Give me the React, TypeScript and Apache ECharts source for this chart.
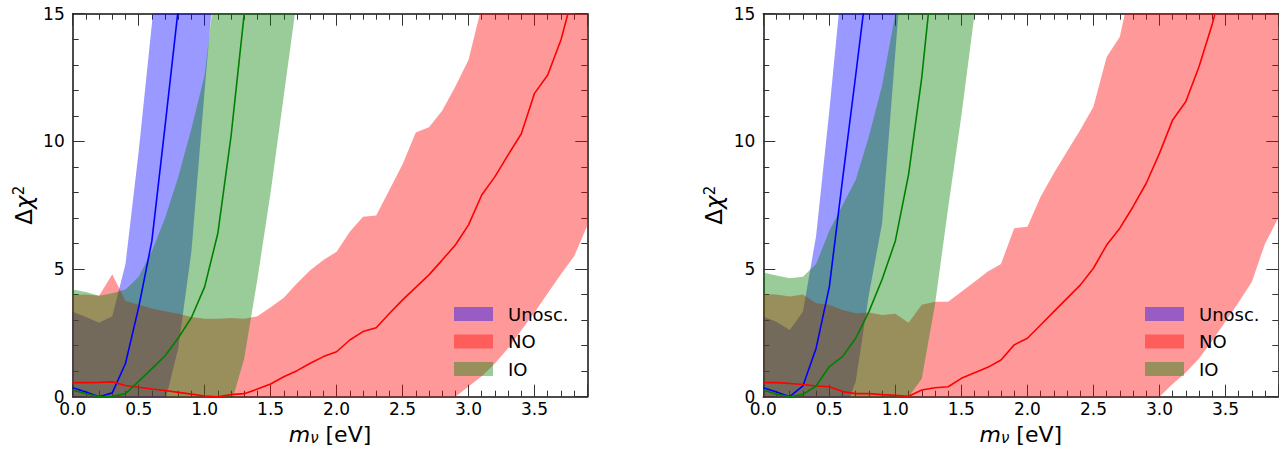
import React, { useEffect, useRef } from 'react';
import * as echarts from 'echarts';

// neutrino mass grid (eV)
const mGrid = [0.0, 0.1, 0.2, 0.3, 0.4, 0.5, 0.6, 0.7, 0.8, 0.9, 1.0, 1.1, 1.2, 1.3, 1.4, 1.5, 1.6, 1.7, 1.8, 1.9,
  2.0, 2.1, 2.2, 2.3, 2.4, 2.5, 2.6, 2.7, 2.8, 2.9, 3.0, 3.1, 3.2, 3.3, 3.4, 3.5, 3.6, 3.7, 3.8, 3.9];

const legendNames = ['Unosc.', 'NO', 'IO'];
const xTicks = [0, 0.5, 1.0, 1.5, 2.0, 2.5, 3.0, 3.5];
const yTicks = [0, 5, 10, 15];

// ---- left panel ----
const unoscLoA = [0, 0, 0, 0, 0, 0, 0, -0.2, 1.9, 5.7, 12, 18];
const unoscHiA = [3.33, 3.12, 2.9, 3.15, 5.2, 9.6, 14.6, 19.5, 24, 28, 32, 36];
const noLoA = [0, 0, 0, 0, 0, 0, 0, 0, 0, 0, 0, 0, 0, 0, 0, 0, 0, 0, 0, 0, 0, 0, 0, 0, 0, 0, 0, 0, 0, 0,
  0.4, 0.8, 1.3, 1.9, 2.6, 3.3, 4.05, 4.8, 5.5, 6.7];
const noHiA = [3.98, 4.0, 3.95, 4.8, 3.75, 3.6, 3.45, 3.35, 3.25, 3.12, 3.05, 3.05, 3.08, 3.05, 3.15, 3.5, 3.88, 4.44, 4.95, 5.35,
  5.68, 6.46, 7.05, 7.1, 8.1, 9.1, 10.35, 10.55, 11.2, 12.15, 13.2, 15.3, 17.5, 19.5, 21.5, 23.5, 25.5, 27.5, 29.5, 31.5];
const ioLoA = [0, 0, 0, 0, 0, 0, 0, 0, 0, 0, 0, 0, -0.3, 1.5, 4.6, 8.0, 11.8, 15.6];
const ioHiA = [4.2, 4.1, 3.95, 4.05, 4.2, 4.7, 5.7, 7.0, 8.6, 10.5, 12.6, 17, 21, 25, 29, 33, 37, 41];
const unoscLineA = [0.35, 0.18, 0.0, 0.15, 1.3, 3.5, 6.1, 10.6, 15.2, 20];
const ioLineA = [0.25, 0.12, 0.0, 0.02, 0.12, 0.6, 1.1, 1.6, 2.3, 3.1, 4.3, 6.4, 10.2, 15.0, 20];
const noLineA = [0.55, 0.55, 0.56, 0.58, 0.44, 0.37, 0.3, 0.24, 0.17, 0.1, 0.03, 0.0, 0.08, 0.12, 0.3, 0.5, 0.78, 1.02, 1.31, 1.57,
  1.76, 2.22, 2.55, 2.7, 3.26, 3.79, 4.28, 4.77, 5.35, 5.94, 6.73, 7.9, 8.62, 9.47, 10.3, 11.88, 12.6, 13.97, 15.9, 17.5];

// ---- right panel ----
const unoscLoB = [0, 0, 0, 0, 0, 0, -0.8, 0.6, 4.0, 6.8, 13.5, 20];
const unoscHiB = [3.13, 2.94, 2.61, 3.33, 6.3, 11.2, 16.5, 22, 27, 32, 37, 42];
const noLoB = [0, 0, 0, 0, 0, 0, 0, 0, 0, 0, 0, 0, 0, 0, 0, 0, 0, 0, 0, 0, 0, 0, 0, 0, 0, 0, 0, 0, 0, 0, 0,
  0.5, 0.95, 1.5, 2.2, 2.95, 3.7, 4.5, 6.0, 7.0];
const noHiB = [4.01, 4.0, 3.92, 4.0, 3.66, 3.6, 3.4, 3.27, 3.3, 3.2, 3.25, 2.9, 3.6, 3.72, 3.72, 4.11, 4.5, 4.9, 5.2, 6.6,
  6.66, 7.83, 8.75, 9.6, 10.45, 11.36, 13.3, 14.1, 16.5, 18.5, 20.5, 22.5, 24.5, 26.5, 28.5, 30.5, 32.5, 34.5, 36.5, 38.5];
const ioLoB = [0, 0, 0, 0, 0, 0, 0, 0, 0, 0, 0, 0, 0.7, 3.6, 7.4, 11, 15, 19];
const ioHiB = [4.86, 4.75, 4.64, 4.7, 5.2, 6.5, 7.5, 8.5, 10.2, 12.2, 15.0, 18, 21, 24, 27, 30, 33, 36];
const unoscLineB = [0.35, 0.18, 0.0, 0.42, 1.9, 4.3, 8.5, 12.6, 16.8];
const ioLineB = [0.26, 0.1, 0.0, 0.09, 0.42, 1.18, 1.57, 2.29, 3.33, 4.6, 6.1, 8.7, 12.5, 17.5];
const noLineB = [0.55, 0.55, 0.52, 0.48, 0.42, 0.39, 0.2, 0.12, 0.12, 0.08, 0.05, 0.02, 0.26, 0.35, 0.39, 0.72, 0.94, 1.15, 1.44, 2.03,
  2.29, 2.81, 3.33, 3.85, 4.37, 5.03, 5.94, 6.6, 7.44, 8.36, 9.53, 10.84, 11.56, 12.93, 14.6, 16.5];

const FONT = 'DejaVu Sans';
const FILL = {
  'Unosc.': 'rgba(0,0,255,0.4)',
  NO: 'rgba(255,0,0,0.4)',
  IO: 'rgba(0,128,0,0.4)',
};
const LINE = { 'Unosc.': '#0000ff', NO: '#ff0000', IO: '#008000' };

function band(name: string, lo: number[], hi: number[], axis: number) {
  const ms = mGrid.slice(0, lo.length);
  const color = (FILL as any)[name];
  return {
    type: 'custom',
    name,
    xAxisIndex: axis * 2,
    yAxisIndex: axis * 2,
    clip: true,
    silent: true,
    z: 2,
    itemStyle: { color },
    encode: { x: 0, y: [1, 2] },
    data: ms.map((m, i) => [m, lo[i], hi[i]]),
    renderItem: (params: any, api: any) => {
      if (params.dataIndex !== 0) return null;
      const pts: number[][] = [];
      for (let i = 0; i < ms.length; i++) pts.push(api.coord([ms[i], hi[i]]));
      for (let i = ms.length - 1; i >= 0; i--) pts.push(api.coord([ms[i], lo[i]]));
      return { type: 'polygon', shape: { points: pts }, style: { fill: color, stroke: null } };
    },
  };
}

function curve(name: string, vals: number[], axis: number) {
  const color = (LINE as any)[name];
  return {
    type: 'line',
    name: name + ' best fit',
    xAxisIndex: axis * 2,
    yAxisIndex: axis * 2,
    data: mGrid.slice(0, vals.length).map((m, i) => [m, vals[i]]),
    showSymbol: false,
    symbol: 'none',
    silent: true,
    clip: true,
    z: 3,
    lineStyle: { color, width: 1.6 },
    itemStyle: { color },
  };
}

const tickLine = { color: '#333', width: 1 };

function xAxes(grid: number) {
  const common = {
    type: 'value', gridIndex: grid, min: xTicks[0], max: 3.9, interval: xTicks[1] - xTicks[0],
    axisLine: { show: true, onZero: false, lineStyle: { color: '#111', width: 1.5 } },
    axisTick: { show: true, inside: true, length: 12, lineStyle: tickLine },
    minorTick: { show: true, splitNumber: 5, length: 6, lineStyle: tickLine },
    splitLine: { show: false },
  };
  return [
    {
      ...common, position: 'bottom',
      axisLabel: {
        show: true, margin: 4, showMaxLabel: false, fontFamily: FONT, fontSize: 17, color: '#000',
        formatter: (v: number) => v.toFixed(1),
      },
      name: '{i|m}{s|ν} [eV]',
      nameLocation: 'middle',
      nameGap: 27,
      nameTextStyle: {
        fontFamily: FONT, fontSize: 22, color: '#000', lineHeight: 22,
        rich: {
          i: { fontFamily: FONT, fontSize: 22, fontStyle: 'italic', color: '#000', lineHeight: 22 },
          s: { fontFamily: FONT, fontSize: 15, fontStyle: 'italic', color: '#000', verticalAlign: 'bottom', lineHeight: 13 },
        },
      },
    },
    { ...common, position: 'top', axisLabel: { show: false } },
  ];
}

function yAxes(grid: number) {
  const common = {
    type: 'value', gridIndex: grid, min: yTicks[0], max: yTicks[yTicks.length - 1], interval: yTicks[1] - yTicks[0],
    axisLine: { show: true, onZero: false, lineStyle: { color: '#111', width: 1.5 } },
    axisTick: { show: true, inside: true, length: 12, lineStyle: tickLine },
    minorTick: { show: true, splitNumber: 5, length: 6, lineStyle: tickLine },
    splitLine: { show: false },
  };
  return [
    {
      ...common, position: 'left',
      axisLabel: { show: true, margin: 8, fontFamily: FONT, fontSize: 17, color: '#000' },
      name: '{n|Δ}{i|χ}{p|2}',
      nameLocation: 'middle',
      nameRotate: 90,
      nameGap: 37,
      nameTextStyle: {
        fontFamily: FONT, fontSize: 23, color: '#000',
        rich: {
          n: { fontFamily: FONT, fontSize: 23, color: '#000', lineHeight: 24 },
          i: { fontFamily: FONT, fontSize: 23, fontStyle: 'italic', color: '#000', lineHeight: 24 },
          p: { fontFamily: FONT, fontSize: 15, color: '#000', verticalAlign: 'top', lineHeight: 15 },
        },
      },
    },
    { ...common, position: 'right', axisLabel: { show: false } },
  ];
}

function legend(left: number) {
  return {
    left, top: 305, orient: 'vertical', icon: 'rect', itemWidth: 39, itemHeight: 14, itemGap: 9.5,
    padding: 0, selectedMode: false, data: legendNames,
    textStyle: { fontFamily: FONT, fontSize: 18, color: '#000', padding: [0, 0, 0, 10] },
  };
}

export default function App() {
  const ref = useRef<HTMLDivElement>(null);
  useEffect(() => {
    if (!ref.current) return;
    const chart = echarts.init(ref.current, undefined, { renderer: 'svg' });
    chart.setOption({
      animation: false,
      backgroundColor: '#fff',
      textStyle: { fontFamily: FONT },
      grid: [
        { left: 72.7, top: 13.7, width: 514.6, height: 383, outerBoundsMode: 'none', containLabel: false },
        { left: 763.3, top: 13.7, width: 515, height: 383, outerBoundsMode: 'none', containLabel: false },
      ],
      xAxis: [...xAxes(0), ...xAxes(1)],
      yAxis: [...yAxes(0), ...yAxes(1)],
      legend: [legend(454), legend(1145)],
      series: [
        band('Unosc.', unoscLoA, unoscHiA, 0),
        band('NO', noLoA, noHiA, 0),
        band('IO', ioLoA, ioHiA, 0),
        curve('Unosc.', unoscLineA, 0),
        curve('NO', noLineA, 0),
        curve('IO', ioLineA, 0),
        band('Unosc.', unoscLoB, unoscHiB, 1),
        band('NO', noLoB, noHiB, 1),
        band('IO', ioLoB, ioHiB, 1),
        curve('Unosc.', unoscLineB, 1),
        curve('NO', noLineB, 1),
        curve('IO', ioLineB, 1),
      ],
    });
    return () => chart.dispose();
  }, []);
  return <div ref={ref} style={{ position: 'fixed', left: 0, top: 0, width: 1279, height: 449 }} />;
}
